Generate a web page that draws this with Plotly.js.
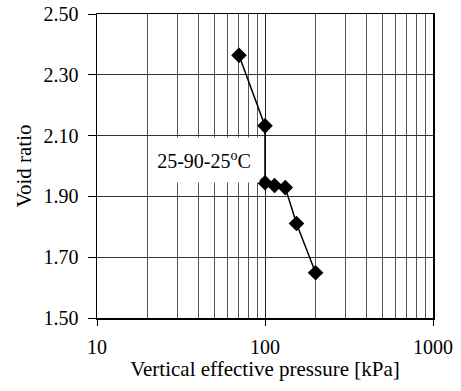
<!DOCTYPE html>
<html><head><meta charset="utf-8">
<script src="https://cdn.plot.ly/plotly-3.0.1.min.js"></script>
<style>html,body{margin:0;padding:0;background:#fff}#c{width:461px;height:391px}</style>
</head><body><div id="c"></div>
<script>
const pressure = [70, 100, 100, 114, 132, 154, 200];
const voidRatio = [2.364, 2.132, 1.945, 1.936, 1.929, 1.811, 1.649];
const xTicks = [10, 100, 1000];
const xMinor = [20,30,40,50,60,70,80,90,200,300,400,500,600,700,800,900];
const yTicks = [1.5, 1.7, 1.9, 2.1, 2.3, 2.5];
const label = '25-90-25<sup>o</sup>C';

const font = {family: 'Liberation Serif', color: '#000', size: 20};
const titleFont = {family: 'Liberation Serif', color: '#000', size: 21};

Plotly.newPlot('c', [{
  x: pressure, y: voidRatio, mode: 'lines+markers', type: 'scatter',
  line: {color: '#000', width: 1.5},
  marker: {symbol: 'diamond', size: 12, color: '#000'}
}], {
  width: 461, height: 391,
  margin: {l: 97, r: 28, t: 14, b: 73},
  paper_bgcolor: '#fff', plot_bgcolor: '#fff',
  font: font, showlegend: false,
  xaxis: {
    type: 'log', range: [1, 3], tickmode: 'array', tickvals: xTicks, ticktext: xTicks.map(String),
    ticks: 'outside', ticklen: 6, tickcolor: '#000', showgrid: true, gridcolor: '#222', gridwidth: 1,
    showline: true, linecolor: '#000', linewidth: 1.5, mirror: true, zeroline: false,
    ticklabelstandoff: 4,
    minor: {tickmode: 'array', tickvals: xMinor, showgrid: true, gridcolor: '#555', gridwidth: 1, ticks: ''},
    title: {text: 'Vertical effective pressure [kPa]', font: titleFont, standoff: 0},
    tickfont: font
  },
  yaxis: {
    range: [1.5, 2.5], tickmode: 'array', tickvals: yTicks, ticktext: yTicks.map(v => v.toFixed(2)),
    ticks: 'outside', ticklen: 8, tickcolor: '#000', showgrid: true, gridcolor: '#333', gridwidth: 1,
    showline: true, linecolor: '#000', linewidth: 1.5, mirror: true, zeroline: false,
    ticklabelstandoff: 5,
    title: {text: 'Void ratio', font: titleFont, standoff: 6},
    tickfont: font
  },
  annotations: [{
    x: 1.639, y: 2.02, xref: 'x', yref: 'y', text: label, showarrow: false,
    bgcolor: '#fff', width: 106, height: 40, borderpad: 2, font: font
  }]
}, {displayModeBar: false, staticPlot: true});
</script></body></html>
